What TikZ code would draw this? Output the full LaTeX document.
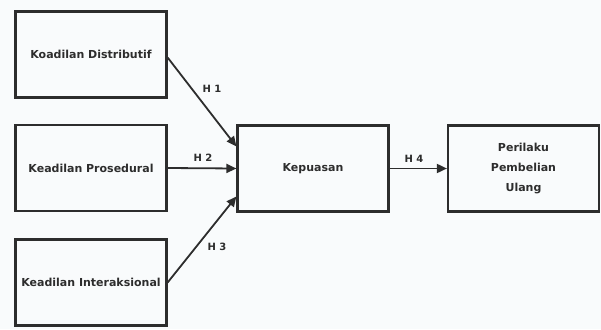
\documentclass[tikz,border=0pt]{standalone}
\usepackage{fontspec}
\setmainfont{DejaVu Sans}
\usepackage{tikz}
\usetikzlibrary{positioning, arrows.meta}

\definecolor{bgcol}{RGB}{249,251,252}
\definecolor{linecol}{RGB}{45,45,45}

\tikzset{
  varbox/.style = {draw=linecol, line width=2.2pt, minimum width=151pt, minimum height=86pt,
                   font=\bfseries\fontsize{11}{20}\selectfont, text=linecol, align=center, inner sep=2pt},
  hyp/.style = {draw=linecol, line width=1.8pt, -{Triangle[length=10pt,width=9pt]}},
  hlabel/.style = {font=\bfseries\fontsize{10}{12}\selectfont, text=linecol}
}

\begin{document}
\begin{tikzpicture}[x=1pt, y=-1pt]
\fill[bgcol] (0,0) rectangle (601,329);
\useasboundingbox (0,0) rectangle (601,329);
\node[varbox] (dist) at (91,54.5) {Koadilan Distributif};
\node[varbox] (pros) at (91,168) {Keadilan Prosedural};
\node[varbox] (inter) at (91,282.5) {Keadilan Interaksional};
\node[varbox] (kep) at (313,168.5) {Kepuasan};
\node[varbox] (ulang) at (523.5,168.5) {Perilaku\\Pembelian\\Ulang};
\coordinate (kepup) at ([yshift=22pt]kep.west); % upper entry
\coordinate (keplow) at ([yshift=-28pt]kep.west); % lower entry
\draw[hyp] ([yshift=-3pt]dist.east) -- (kepup);
\draw[hyp] (pros.east) -- (kep.west);
\draw[hyp] (inter.east) -- (keplow);
\draw[hyp] (kep.east) -- (ulang.west);
\node[hlabel] (h1) at (212,89) {H 1};
\node[hlabel] (h2) at (203,158) {H 2};
\node[hlabel] (h3) at (217,247) {H 3};
\node[hlabel] (h4) at (414,159) {H 4};
\end{tikzpicture}
\end{document}
